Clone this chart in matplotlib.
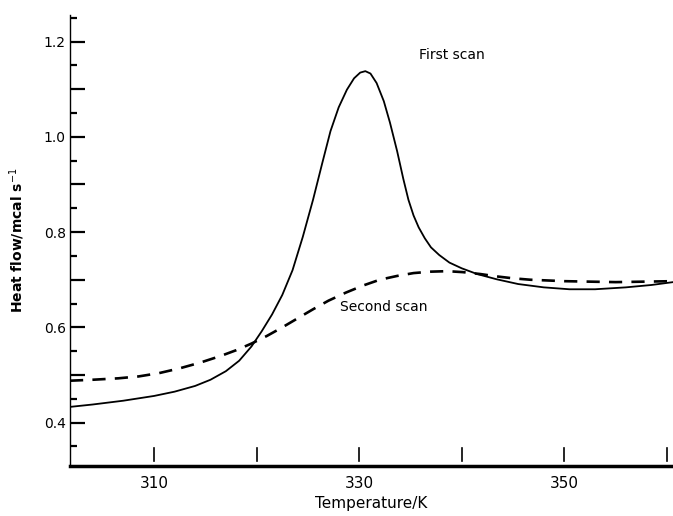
import matplotlib.pyplot as plt
import matplotlib.transforms as mtransforms
from matplotlib.ticker import FixedLocator, FuncFormatter

# values
temp_first = [301.8, 304.0, 307.0, 310.0, 312.0, 314.0, 315.5, 317.0, 318.3,
              319.5, 320.5, 321.5, 322.5, 323.5, 324.5, 325.5, 326.4, 327.2,
              328.0, 328.8, 329.5, 330.1, 330.6, 331.1, 331.7, 332.4, 333.0,
              333.7, 334.3, 334.8, 335.3, 335.8, 336.4, 337.0, 337.8, 338.8,
              340.0, 341.5, 343.4, 345.5, 348.0, 350.5, 353.0, 356.0, 358.5,
              360.6]
flow_first = [0.433, 0.438, 0.446, 0.456, 0.465, 0.477, 0.490, 0.508, 0.530,
              0.560, 0.592, 0.627, 0.668, 0.720, 0.790, 0.868, 0.945, 1.012,
              1.062, 1.099, 1.123, 1.135, 1.138, 1.133, 1.113, 1.075, 1.030,
              0.970, 0.912, 0.868, 0.835, 0.810, 0.787, 0.768, 0.752, 0.736,
              0.724, 0.712, 0.701, 0.691, 0.684, 0.680, 0.680, 0.684, 0.689,
              0.695]

temp_second = [301.8, 304.0, 306.5, 308.5, 310.5, 312.5, 314.5, 316.5, 318.0,
               319.5, 321.0, 322.5, 324.0, 325.5, 327.0, 328.7, 330.4, 332.0,
               333.7, 335.3, 337.0, 338.6, 340.1, 341.8, 343.4, 345.0, 346.7,
               350.0, 355.0, 360.6]
flow_second = [0.488, 0.490, 0.493, 0.497, 0.504, 0.514, 0.526, 0.540, 0.552,
               0.566, 0.582, 0.600, 0.619, 0.638, 0.656, 0.673, 0.688, 0.700,
               0.708, 0.714, 0.717, 0.718, 0.716, 0.712, 0.707, 0.703, 0.700,
               0.697, 0.695, 0.697]

x_ticks = [310, 320, 330, 340, 350, 360]
x_labels = [310, 330, 350]
y_major = [0.4, 0.5, 0.6, 0.7, 0.8, 0.9, 1.0, 1.1, 1.2]
y_labels = [0.4, 0.6, 0.8, 1.0, 1.2]
y_minor = [0.35, 0.45, 0.55, 0.65, 0.75, 0.85, 0.95, 1.05, 1.15, 1.25]

fig = plt.figure(figsize=(6.73, 5.16), dpi=100)
ax = fig.add_axes([0.104, 0.097, 0.896, 0.874])

ax.plot(temp_first, flow_first, color='black', lw=1.3, solid_joinstyle='round')
ax.plot(temp_second, flow_second, color='black', lw=1.9, linestyle=(0, (5, 3.5)))

ax.text(335.8, 1.172, 'First scan', fontsize=10, va='center', ha='left')
ax.text(328.1, 0.643, 'Second scan', fontsize=10, va='center', ha='left')

ax.set_xlim(301.8, 360.6)
ax.set_ylim(0.309, 1.256)

ax.spines['top'].set_visible(False)
ax.spines['right'].set_visible(False)
ax.spines['left'].set_linewidth(1.0)
ax.spines['bottom'].set_linewidth(2.5)

# y ticks pointing into the plot, labels only every 0.2
ax.yaxis.set_major_locator(FixedLocator(y_major))
ax.yaxis.set_major_formatter(FuncFormatter(
    lambda v, p: ('%.1f' % v) if any(abs(v - l) < 1e-6 for l in y_labels) else ''))
ax.yaxis.set_minor_locator(FixedLocator(y_minor))
ax.tick_params(axis='y', which='major', direction='in', length=11, width=1.6,
               labelsize=10, pad=3)
ax.tick_params(axis='y', which='minor', direction='in', length=5, width=1.6)

# x ticks float a little above the axis line
ax.set_xticks(x_labels)
ax.tick_params(axis='x', length=0, labelsize=11, pad=7)
trans = mtransforms.blended_transform_factory(ax.transData, ax.transAxes)
for t in x_ticks:
    ax.plot([t, t], [0.01, 0.04], color='black', lw=1.2, transform=trans,
            clip_on=False)

ax.set_xlabel('Temperature/K', fontsize=11, labelpad=4)
ax.set_ylabel('Heat flow/mcal s$^{-1}$', fontsize=10, fontweight='bold', labelpad=12)

fig.savefig('out.png', dpi=100)
